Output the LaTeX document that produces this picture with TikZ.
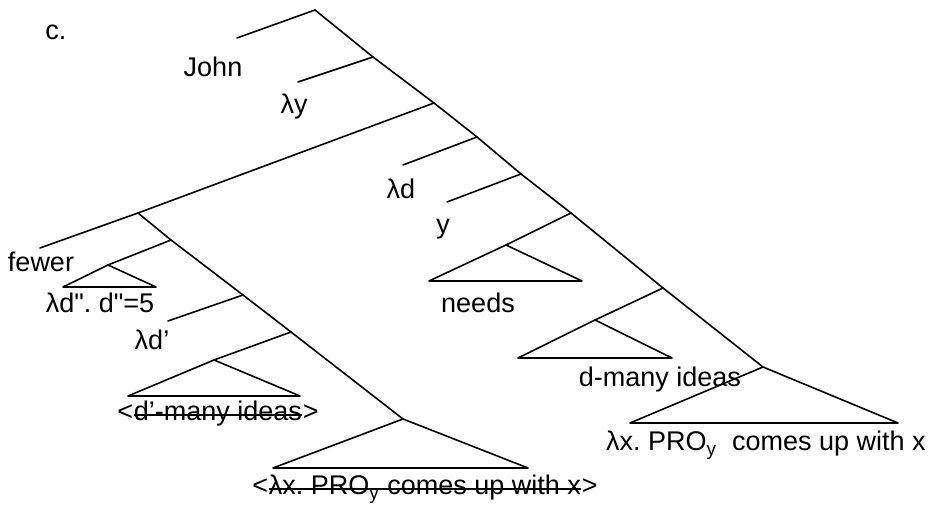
\documentclass[tikz,border=0pt]{standalone}
\usepackage{fontspec}
\setmainfont{Liberation Sans}
\newfontfamily\rawfont{Liberation Sans}[Ligatures=TeXOff]
\usetikzlibrary{positioning, calc}

\newcommand{\dq}{{\rawfont"}}

\tikzset{
  branch/.style={line width=0.8pt, line cap=round},
  strike/.style={line width=0.8pt},
  lbl/.style={inner sep=0pt, anchor=base, font=\fontsize{13.5}{15}\selectfont\frenchspacing},
}

\begin{document}
\begin{tikzpicture}[x=0.5pt, y=-0.5pt]
    \useasboundingbox (0,0) rectangle (938,506);

    % main spine
    \coordinate (root) at (315,10);
    \coordinate (n1) at (373,57);
    \coordinate (n2) at (434,103);
    \coordinate (n3) at (477,137);
    \coordinate (n4) at (521,174);
    \coordinate (n5) at (571,213);
    \coordinate (n6) at (663,288);
    \coordinate (n7) at (763,367);
    \coordinate (john) at (237,38);
    \coordinate (lamy) at (298,82);
    \coordinate (lamd) at (403,165);
    \coordinate (yy) at (447,202);
    \coordinate (needs) at (506,245);
    \coordinate (dmany) at (595,320);

    % fewer subtree
    \coordinate (m0) at (138,213);
    \coordinate (fewer) at (40,248);
    \coordinate (m1) at (171,240);
    \coordinate (five) at (108,265);
    \coordinate (m2) at (243,295);
    \coordinate (lamdp) at (168,321);
    \coordinate (m3) at (291,332);
    \coordinate (dpmany) at (214,360);
    \coordinate (m4) at (403,419);

    \draw[branch] (root) -- (n1) -- (n2) -- (n3) -- (n4) -- (n5) -- (n6) -- (n7);
    \draw[branch] (root) -- (john);
    \draw[branch] (n1) -- (lamy);
    \draw[branch] (n2) -- (m0);
    \draw[branch] (n3) -- (lamd);
    \draw[branch] (n4) -- (yy);
    \draw[branch] (n5) -- (needs);
    \draw[branch] (n6) -- (dmany);
    \draw[branch] (m0) -- (fewer);
    \draw[branch] (m0) -- (m1) -- (m2) -- (m3) -- (m4);
    \draw[branch] (m1) -- (five);
    \draw[branch] (m2) -- (lamdp);
    \draw[branch] (m3) -- (dpmany);

    % triangles
    \draw[branch, line join=round] (needs) -- (429,281) -- (582,281) -- cycle;
    \draw[branch, line join=round] (dmany) -- (518,358) -- (672,358) -- cycle;
    \draw[branch, line join=round] (n7) -- (630,423) -- (898,423) -- cycle;
    \draw[branch, line join=round] (five) -- (63,287) -- (156,287) -- cycle;
    \draw[branch, line join=round] (dpmany) -- (128,396) -- (300,396) -- cycle;
    \draw[branch, line join=round] (m4) -- (273,468) -- (528,468) -- cycle;

    % labels
    \node[lbl] (c) at (56,40) {c.};
    \node[lbl] (tjohn) at (213,77) {John};
    \node[lbl] (tlamy) at (294,114) {λy};
    \node[lbl] (tlamd) at (401,199) {λd};
    \node[lbl] (tyy) at (443,234) {y};
    \node[lbl] (tfewer) at (41,272) {fewer};
    \node[lbl] (tfive) at (100,313) {λd\dq. d\dq=5};
    \node[lbl] (tlamdp) at (152,350) {λd'};
    \node[lbl] (tneeds) at (478,313) {needs};
    \node[lbl] (tdmany) at (660,387) {d-many ideas};
    \node[lbl] (tcomes) at (766,451) {λx. PRO\textsubscript{y}\ \ comes up with x};

    % struck-out copies
    \node[lbl] (tdpmany) at (218,421) {d'-many ideas};
    \node[lbl, anchor=base east] (tdpl) at (tdpmany.base west) {<};
    \node[lbl, anchor=base west] (tdpr) at (tdpmany.base east) {>};
    \draw[strike] ($(tdpmany.base west)+(0,-6)$) -- ($(tdpmany.base east)+(0,-6)$);

    \node[lbl] (tcopy) at (425,495) {λx. PRO\textsubscript{y} comes up with x};
    \node[lbl, anchor=base east] (tcpl) at (tcopy.base west) {<};
    \node[lbl, anchor=base west] (tcpr) at (tcopy.base east) {>};
    \draw[strike] ($(tcopy.base west)+(0,-6)$) -- ($(tcopy.base east)+(0,-6)$);
\end{tikzpicture}
\end{document}
